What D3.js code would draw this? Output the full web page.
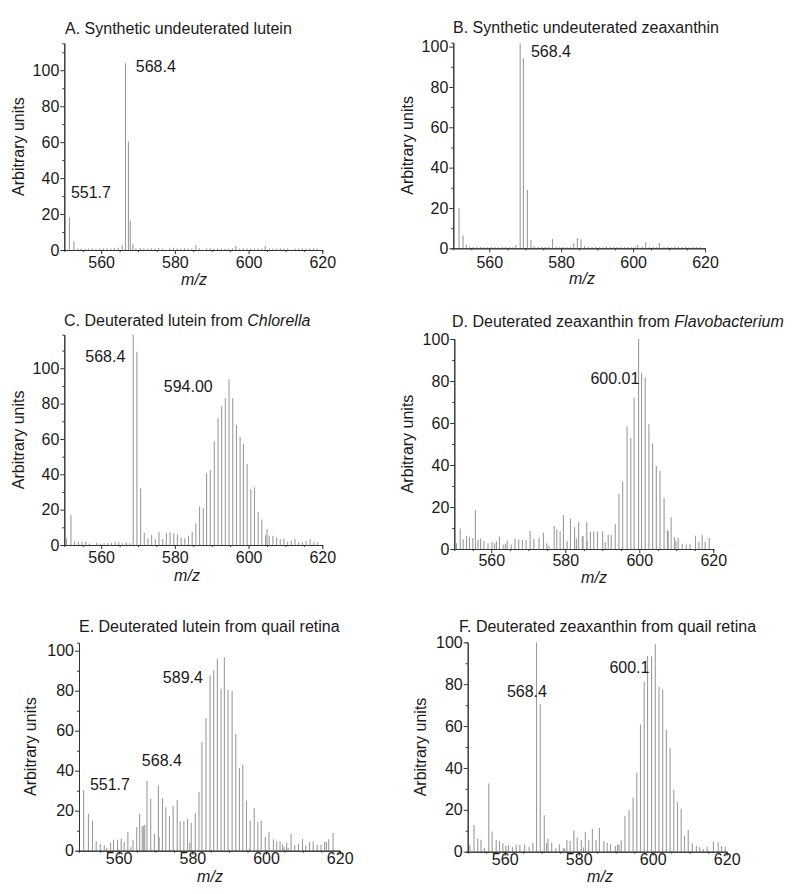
<!DOCTYPE html>
<html>
<head>
<meta charset="utf-8">
<script src="https://cdn.jsdelivr.net/npm/d3@7"></script>
<style>
  html, body { margin: 0; padding: 0; background: #fff; }
  svg { display: block; }
  text { font-family: "Liberation Sans", Arial, sans-serif; fill: #1a1a1a; }
</style>
</head>
<body>
<svg id="chart" width="800" height="894"></svg>
<script>
// ---------------- DATA ----------------
const titles = [
  ["A. Synthetic undeuterated lutein", ""],
  ["B. Synthetic undeuterated zeaxanthin", ""],
  ["C. Deuterated lutein from ", "Chlorella"],
  ["D. Deuterated zeaxanthin from ", "Flavobacterium"],
  ["E. Deuterated lutein from quail retina", ""],
  ["F. Deuterated zeaxanthin from quail retina", ""]
];
const xTicks = [560, 580, 600, 620];
const yTicks = [0, 20, 40, 60, 80, 100];
const yMax = [115, 102, 119, 100, 104, 100];

const mzA = [551.4,552.6,553.6,554.6,555.6,556.6,557.6,558.6,559.6,560.6,561.6,562.6,563.6,564.6,565.7,566.6,567.4,567.9,568.6,569.4,570.6,571.6,572.6,573.6,574.6,575.6,576.6,578.6,579.6,580.6,581.6,582.6,583.6,584.6,585.7,586.6,588.6,589.6,590.6,591.6,592.6,593.6,594.6,595.6,596.5,597.6,598.6,599.6,600.6,601.6,602.6,603.6,604.5,605.6,606.6,607.6,608.6,609.6,610.6,612.6,613.6,614.6,615.6,616.6,617.6,618.6];
const intA = [18.2,4.8,0.9,0.8,0.7,0.9,0.8,0.7,0.9,0.8,1,0.9,1.1,1.2,2.8,103.9,60.3,16.3,3.2,0.9,1.1,0.8,0.7,1,0.8,1.1,0.8,1,1.2,0.9,0.8,1,0.8,1,2.8,1,0.8,1,0.7,0.9,1,0.8,0.9,1,2.2,0.9,1,0.8,0.9,0.8,1,0.9,2.2,1,0.8,0.9,1,0.8,0.9,0.8,0.9,1,0.8,0.9,1,0.8];

const mzB = [551.6,552.7,553.6,554.6,555.6,556.6,557.6,558.6,559.6,560.6,561.6,562.6,563.6,564.6,565.6,566.6,567.4,568.6,569.5,570.6,571.6,572.5,573.6,574.6,575.6,576.6,577.6,578.6,579.6,580.6,581.6,582.6,583.5,584.5,585.5,586.5,587.6,588.6,589.6,590.6,591.6,592.6,593.6,594.6,595.6,596.6,597.6,598.6,599.6,600.6,601.3,602.6,603.5,604.6,605.6,606.6,607.3,608.6,609.6,610.6,611.6,612.6,613.6,614.6,615.6,616.6,617.6,618.6];
const intB = [19.8,6.4,1.8,0.8,0.6,0.7,0.6,0.5,0.7,0.6,0.6,0.5,0.7,0.6,0.6,0.7,1.8,101.6,94.2,28.9,4.1,1.2,0.8,0.6,0.7,0.6,4.6,0.8,0.7,0.6,0.7,0.6,2.5,5.1,4.5,1.2,0.7,0.6,0.8,0.6,0.5,0.7,0.6,0.7,0.6,0.5,0.7,0.6,0.7,0.8,1.7,0.7,3,0.6,0.7,0.6,2.6,0.6,0.7,0.5,0.8,0.6,0.7,0.6,0.5,0.6,0.7,0.6];

const mzC = [550.6,551.8,552.8,553.8,554.8,555.8,556.8,558.8,559.8,560.8,561.8,562.8,563.8,564.8,565.8,566.8,567.8,568.7,569.7,570.7,571.7,572.7,573.7,574.7,575.7,576.7,577.7,578.7,579.7,580.7,581.7,582.7,583.7,584.7,585.7,586.7,587.7,588.6,589.6,590.7,591.7,592.7,593.7,594.7,595.7,596.7,597.7,598.6,599.6,600.6,601.6,602.6,603.6,604.6,605.0,605.6,606.6,607.6,608.6,609.6,610.6,611.6,612.6,613.6,614.6,615.6,616.7,617.7,618.7];
const intC = [3.8,17,2,2,2,1.7,0.8,1.3,0.8,1,1,1.3,1.8,1.8,1,1.5,1,119,109.4,32,7,3.8,5.7,3.4,7.5,3.4,7,7.2,6.6,6,4.3,3.8,5,7.5,12.3,21.7,20.8,40.6,42.5,58.5,71.7,78.7,83,93.8,83,68,61.3,57.2,45.8,31.5,32.6,18.7,14.5,5.5,9,5.3,5.3,4.3,3.2,3.6,1.9,2.5,3.4,1.7,1.5,2.3,3.2,1.9,1.5];

const mzD = [550.6,551.6,552.4,553.3,554.1,555.0,555.7,556.4,557.1,558.0,559.1,560.2,560.9,561.4,562.2,563.2,563.8,564.3,565.4,566.4,567.4,568.4,569.4,570.5,571.5,572.9,574.1,575.0,575.6,577.0,577.7,578.6,579.5,580.5,581.4,582.5,583.0,583.6,584.6,584.8,585.8,585.9,586.8,587.7,588.7,590.1,590.8,591.6,592.4,593.5,594.5,595.5,596.7,597.7,598.6,599.8,600.6,601.6,602.6,603.6,604.6,605.6,606.7,607.6,607.8,608.6,609.5,609.9,610.5,611.6,612.7,613.7,615.2,616.1,617.0,617.8,618.9];
const intD = [2.7,9.8,4.6,6.3,5.6,5.2,18.6,4.3,5,3.8,2.7,3.3,2.7,3.6,6,2.2,2.5,4.1,2.2,4.9,4.4,4.4,4.3,8.6,4.9,5.2,7.8,2.7,1.4,11,9.4,8.4,16.2,3.8,14.4,10.3,5,12.9,5.9,6.2,12.7,3.8,8.3,8.3,8.3,8.3,3.2,6.7,6.7,11.9,26.2,32.2,58.4,52.7,72,100,84,81.7,59.4,50.3,39.5,37.1,24.4,9,8.3,15.1,5.6,3.8,5.2,2.5,2.1,2.5,6.3,3.5,6.8,3.3,5.2];

const mzE = [550.5,551.8,552.9,553.9,555.0,556.1,556.8,557.8,558.6,559.7,560.7,561.5,562.5,563.3,563.9,564.9,565.7,566.4,566.8,567.1,567.7,568.7,569.7,570.8,571.0,571.9,572.8,573.8,574.8,575.9,576.7,577.7,578.7,579.3,579.7,580.8,581.8,582.6,583.7,584.8,585.8,586.8,587.8,588.7,589.7,590.8,591.8,592.8,593.7,594.7,595.5,595.7,596.8,597.8,598.7,599.8,600.8,602.0,602.9,603.8,604.5,604.9,605.6,606.0,606.8,607.8,608.8,609.9,610.8,611.8,612.8,613.9,614.9,615.9,616.4,617.0,618.2];
const intE = [30.2,18.5,15,4.7,3.3,2.7,1.3,4,5.5,5.5,6,4.3,9.3,1.7,5.3,11.7,18.5,12.2,12.5,13,35,26,8.5,32.5,6.7,26.3,21.7,17.2,22.2,25.2,14.7,14.7,16,4,13.8,18.7,29.3,54.3,66.3,87.7,90.2,96,81,96.7,80.5,80,58.3,41.3,43,25,1,15,21.3,14.3,15,6.8,9.3,5.7,4.7,4.7,3.3,1.7,4,1.3,8.5,2.7,3.3,5.8,2.7,4.3,4.7,3,3,4.3,4.3,5.7,9];

const mzF = [550.6,551.7,552.7,553.6,554.5,555.7,556.6,557.7,558.6,559.5,560.3,561.0,562.1,563.1,564.1,565.4,566.6,567.6,568.6,569.6,570.7,571.3,571.7,572.7,573.8,574.8,575.8,576.2,576.8,577.7,578.7,579.6,580.7,581.3,581.8,582.7,583.7,584.7,585.6,586.8,587.7,588.6,589.9,590.5,590.9,591.5,592.5,593.6,594.7,595.7,596.7,597.7,598.6,599.7,600.7,601.7,602.7,603.7,604.7,605.7,606.7,607.7,608.6,609.6,610.7,611.8,612.7,613.7,614.7,616.4,617.7,618.6,619.6];
const intF = [3.2,12.7,6.2,5.7,1.8,32.6,9.6,5.6,5.1,4,2.7,3.2,2.2,3.2,3.2,3.5,2.2,4.3,100,70.5,17.4,4,6.2,4.3,1.6,3.5,1.6,1.6,5.6,5.1,10.2,6.8,5.6,2.1,9.4,5.7,10.8,5.7,11.3,5.1,4.3,3.8,2.7,3.5,3.2,5.3,17,19.9,25.8,37.7,60.7,81.2,93.5,93.2,99.2,78.8,77.5,58.1,49.7,29.5,23.7,20.5,7.6,10.4,4,2.7,2.1,1.3,2.4,4.9,4.5,2.7,2.4];

// peak annotations: label text, anchored at (m/z, intensity) in data units
const peaksA = [["568.4", 569.4, 99.2], ["551.7", 551.8, 28.7]];
const peaksB = [["568.4", 571.6, 95.0]];
const peaksC = [["568.4", 555.7, 103.8], ["594.00", 577.0, 86.3]];
const peaksD = [["600.01", 586.8, 78.7]];
const peaksE = [["589.4", 572.0, 83.7], ["568.4", 566.3, 42.3], ["551.7", 552.2, 30.3]];
const peaksF = [["600.1", 588.3, 85.5], ["568.4", 560.6, 74.0]];

// ---------------- LAYOUT ----------------
const panels = [
  {mz: mzA, v: intA, peaks: peaksA, xr: [64.3, 322.3], xd0: 550, base: 250,   top: 43.3,  titleX: 65,  titleY: 34.3,  ylabX: 18,  xlabX: 194, xlabY: 285, tgap: 7},
  {mz: mzB, v: intB, peaks: peaksB, xr: [453.3, 705],  xd0: 550, base: 248.3, top: 42.6,  titleX: 453, titleY: 33.3,  ylabX: 407, xlabX: 582, xlabY: 284, tgap: 8},
  {mz: mzC, v: intC, peaks: peaksC, xr: [64.3, 322.3], xd0: 550, base: 545,   top: 334.7, titleX: 64,  titleY: 325.7, ylabX: 18,  xlabX: 187, xlabY: 581, tgap: 6.5},
  {mz: mzD, v: intD, peaks: peaksD, xr: [454.3, 713.3],xd0: 550, base: 549,   top: 339,   titleX: 452, titleY: 326.7, ylabX: 407, xlabX: 594, xlabY: 583, tgap: 6},
  {mz: mzE, v: intE, peaks: peaksE, xr: [79, 339.7],   xd0: 549.24, base: 850.7, top: 642.7, titleX: 79, titleY: 631.7, ylabX: 30, xlabX: 210, xlabY: 882, tgap: 2},
  {mz: mzF, v: intF, peaks: peaksF, xr: [467.7, 726.7],xd0: 550, base: 851.7, top: 642.3, titleX: 459, titleY: 631.7, ylabX: 420, xlabX: 600, xlabY: 882, tgap: 1.5}
];

const svg = d3.select("#chart");
const FS = 16;

panels.forEach((p, i) => {
  const g = svg.append("g");
  const x = d3.scaleLinear().domain([p.xd0, 620]).range(p.xr);
  const y = d3.scaleLinear().domain([0, yMax[i]]).range([p.base, p.top]);

  // bars (stick spectrum)
  const data = p.mz.map((m, k) => ({mz: m, val: p.v[k]}));
  g.append("g").selectAll("line").data(data).join("line")
    .attr("x1", d => x(d.mz)).attr("x2", d => x(d.mz))
    .attr("y1", y(0)).attr("y2", d => y(Math.min(d.val, yMax[i])))
    .attr("stroke", "#9c9c9c").attr("stroke-width", 1.1);

  // minor ticks
  const minorY = d3.range(10, yMax[i], 20);
  const minorX = d3.range(555, 620, 5).filter(t => t % 20 !== 0);
  const yMinor = g.append("g").attr("transform", `translate(${p.xr[0]},0)`)
    .call(d3.axisLeft(y).tickValues(minorY).tickSize(2).tickFormat(""));
  const xMinor = g.append("g").attr("transform", `translate(0,${p.base})`)
    .call(d3.axisBottom(x).tickValues(minorX).tickSize(2).tickFormat(""));

  // major axes
  const yAx = g.append("g").attr("transform", `translate(${p.xr[0]},0)`)
    .call(d3.axisLeft(y).tickValues(yTicks).tickSize(4).tickPadding(1).tickSizeOuter(0));
  const xAx = g.append("g").attr("transform", `translate(0,${p.base})`)
    .call(d3.axisBottom(x).tickValues(xTicks).tickSize(4).tickSizeOuter(0));

  [yMinor, xMinor, yAx, xAx].forEach(a => {
    a.select(".domain").attr("stroke", "#333").attr("stroke-width", 1);
    a.selectAll(".tick line").attr("stroke", "#333");
    a.selectAll("text").attr("font-size", FS).attr("fill", "#1a1a1a")
      .attr("font-family", '"Liberation Sans", Arial, sans-serif');
  });
  xAx.selectAll("text").attr("y", p.tgap).attr("dy", "0.71em");

  // title
  const t = g.append("text").attr("x", p.titleX).attr("y", p.titleY).attr("font-size", FS);
  t.append("tspan").text(titles[i][0]);
  if (titles[i][1]) t.append("tspan").attr("font-style", "italic").text(titles[i][1]);

  // axis labels
  g.append("text")
    .attr("transform", `translate(${p.ylabX},${(p.base + p.top) / 2}) rotate(-90)`)
    .attr("text-anchor", "middle").attr("dy", "0.35em").attr("font-size", FS)
    .text("Arbitrary units");
  g.append("text").attr("x", p.xlabX).attr("y", p.xlabY)
    .attr("text-anchor", "middle").attr("font-size", FS).attr("font-style", "italic")
    .text("m/z");

  // peak labels
  g.selectAll("text.peak").data(p.peaks).join("text").attr("class", "peak")
    .attr("x", d => x(d[1])).attr("y", d => y(d[2]))
    .attr("font-size", FS).text(d => d[0]);
});
</script>
</body>
</html>
